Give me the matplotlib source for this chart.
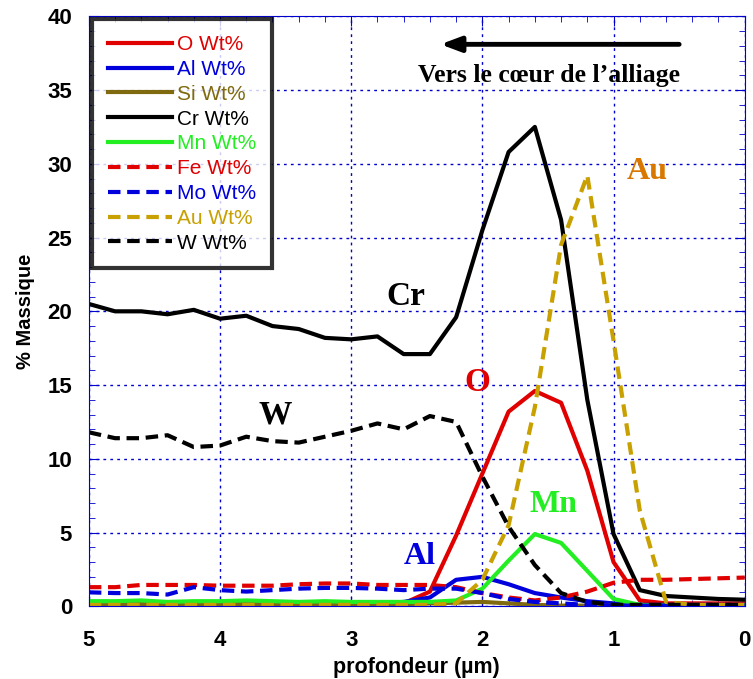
import numpy as np
import matplotlib
matplotlib.use("Agg")
import matplotlib.pyplot as plt
from matplotlib.ticker import MultipleLocator

# depth (um), one point every 0.2 um
depth = [5.0, 4.8, 4.6, 4.4, 4.2, 4.0, 3.8, 3.6, 3.4, 3.2, 3.0, 2.8, 2.6,
         2.4, 2.2, 2.0, 1.8, 1.6, 1.4, 1.2, 1.0, 0.8, 0.6, 0.4, 0.2, 0.0]

o_wt = [0.1, 0.1, 0.1, 0.1, 0.1, 0.1, 0.1, 0.1, 0.1, 0.1, 0.1, 0.15, 0.2,
        1.0, 4.8, 9.0, 13.2, 14.6, 13.8, 9.2, 3.0, 0.4, 0.2, 0.2, 0.2, 0.2]
al_wt = [0.15, 0.15, 0.15, 0.15, 0.15, 0.15, 0.15, 0.15, 0.15, 0.15, 0.15, 0.2, 0.3,
         0.6, 1.8, 2.0, 1.5, 0.9, 0.6, 0.35, 0.2, 0.1, 0.1, 0.1, 0.1, 0.1]
si_wt = [0.15, 0.15, 0.15, 0.15, 0.15, 0.15, 0.15, 0.15, 0.15, 0.15, 0.15, 0.15, 0.15,
         0.2, 0.25, 0.3, 0.2, 0.1, 0.05, 0.05, 0.05, 0.05, 0.05, 0.05, 0.05, 0.05]
cr_wt = [20.5, 20.0, 20.0, 19.8, 20.1, 19.5, 19.7, 19.0, 18.8, 18.2, 18.1, 18.3, 17.1,
         17.1, 19.6, 25.5, 30.8, 32.5, 26.2, 14.0, 4.9, 1.1, 0.7, 0.6, 0.5, 0.45]
mn_wt = [0.35, 0.35, 0.4, 0.3, 0.35, 0.35, 0.4, 0.35, 0.3, 0.35, 0.3, 0.3, 0.3,
         0.3, 0.4, 1.2, 3.1, 4.9, 4.3, 2.4, 0.5, 0.1, 0.05, 0.05, 0.05, 0.05]
fe_wt = [1.3, 1.3, 1.45, 1.45, 1.45, 1.4, 1.4, 1.4, 1.5, 1.55, 1.55, 1.45, 1.45,
         1.45, 1.3, 0.9, 0.6, 0.4, 0.6, 1.0, 1.6, 1.8, 1.8, 1.85, 1.9, 1.95]
mo_wt = [0.95, 0.9, 0.9, 0.8, 1.3, 1.1, 1.0, 1.1, 1.2, 1.25, 1.25, 1.2, 1.1,
         1.2, 1.2, 0.9, 0.5, 0.3, 0.2, 0.1, 0.05, 0.05, 0.05, 0.05, 0.05, 0.05]
au_wt = [0.1, 0.1, 0.1, 0.1, 0.1, 0.1, 0.1, 0.1, 0.1, 0.1, 0.1, 0.1, 0.1,
         0.1, 0.2, 1.8, 5.5, 13.5, 24.5, 29.2, 18.0, 6.5, 0.3, 0.1, 0.1, 0.1]
w_wt = [11.8, 11.4, 11.4, 11.6, 10.8, 10.9, 11.5, 11.2, 11.1, 11.5, 11.9, 12.4, 12.0,
        12.9, 12.5, 8.8, 5.4, 2.8, 0.9, 0.3, 0.1, 0.1, 0.1, 0.1, 0.1, 0.1]

series = [
    ("O Wt%", o_wt, "#e00000", "-"),
    ("Al Wt%", al_wt, "#0000dd", "-"),
    ("Si Wt%", si_wt, "#7f6a10", "-"),
    ("Cr Wt%", cr_wt, "black", "-"),
    ("Mn Wt%", mn_wt, "#22ee22", "-"),
    ("Fe Wt%", fe_wt, "#e00000", "--"),
    ("Mo Wt%", mo_wt, "#0000dd", "--"),
    ("Au Wt%", au_wt, "#c8a000", "--"),
    ("W Wt%", w_wt, "black", "--"),
]

plt.rcParams['font.family'] = ['Liberation Sans', 'DejaVu Sans']

fig = plt.figure(figsize=(7.53, 6.79), dpi=100)
ax = fig.add_axes([0.118, 0.107, 0.871, 0.869])

for name, vals, col, ls in series:
    ax.plot(depth, vals, color=col, linestyle=ls, linewidth=3,
            dashes=(3, 1.6) if ls == "--" else (None, None), label=name)

ax.set_xlim(5, 0)
ax.set_ylim(0, 40)
ax.xaxis.set_major_locator(MultipleLocator(1))
ax.xaxis.set_minor_locator(MultipleLocator(0.2))
ax.yaxis.set_major_locator(MultipleLocator(5))
ax.yaxis.set_minor_locator(MultipleLocator(1))
ax.grid(True, which='major', color='#0000cc', linestyle=(0, (2, 3)), linewidth=1)
ax.tick_params(which='both', direction='in', color='#0000cc', top=True, right=True)
ax.tick_params(which='major', length=7, labelsize=16)
ax.tick_params(axis='x', which='major', pad=17)
ax.tick_params(axis='y', which='major', pad=12)
ax.tick_params(which='minor', length=4)
for lab in ax.get_xticklabels() + ax.get_yticklabels():
    lab.set_fontweight('bold')
for sp in ax.spines.values():
    sp.set_color('#0000cc')

ax.set_xlabel("profondeur (µm)", fontsize=15.5, fontweight='bold', labelpad=4)
ax.set_ylabel("% Massique", fontsize=14.5, fontweight='bold', labelpad=9)

leg = ax.legend(loc='upper left', bbox_to_anchor=(0.0, 1.0), fontsize=15,
                frameon=True, fancybox=False, handlelength=3.1, handletextpad=0.25,
                labelspacing=0.28, borderpad=0.75, borderaxespad=0.15)
leg.get_frame().set_edgecolor('black')
leg.get_frame().set_linewidth(3)
for txt, (name, vals, col, ls) in zip(leg.get_texts(), series):
    txt.set_color(col)

serif = ['Liberation Serif', 'DejaVu Serif']
ax.text(2.58, 21.0, "Cr", fontsize=24, fontweight='bold', family=serif, color='black', ha='center', va='center')
ax.text(3.58, 13.0, "W", fontsize=24, fontweight='bold', family=serif, color='black', ha='center', va='center')
ax.text(2.04, 15.2, "O", fontsize=24, fontweight='bold', family=serif, color='#e00000', ha='center', va='center')
ax.text(0.74, 29.5, "Au", fontsize=23, fontweight='bold', family=serif, color='#d97800', ha='center', va='center')
ax.text(1.46, 6.9, "Mn", fontsize=23, fontweight='bold', family=serif, color='#22ee22', ha='center', va='center')
ax.text(2.48, 3.4, "Al", fontsize=23, fontweight='bold', family=serif, color='#0000dd', ha='center', va='center')
ax.text(1.49, 36.0, "Vers le cœur de l’alliage", fontsize=18.5, fontweight='bold', family=serif,
        color='black', ha='center', va='center')
ax.annotate("", xy=(2.32, 38.1), xytext=(0.5, 38.1),
            arrowprops=dict(arrowstyle='-|>,head_length=1.2,head_width=0.45', color='black', lw=3.5,
                            shrinkA=0, shrinkB=0))

fig.savefig("out.png", dpi=100)
